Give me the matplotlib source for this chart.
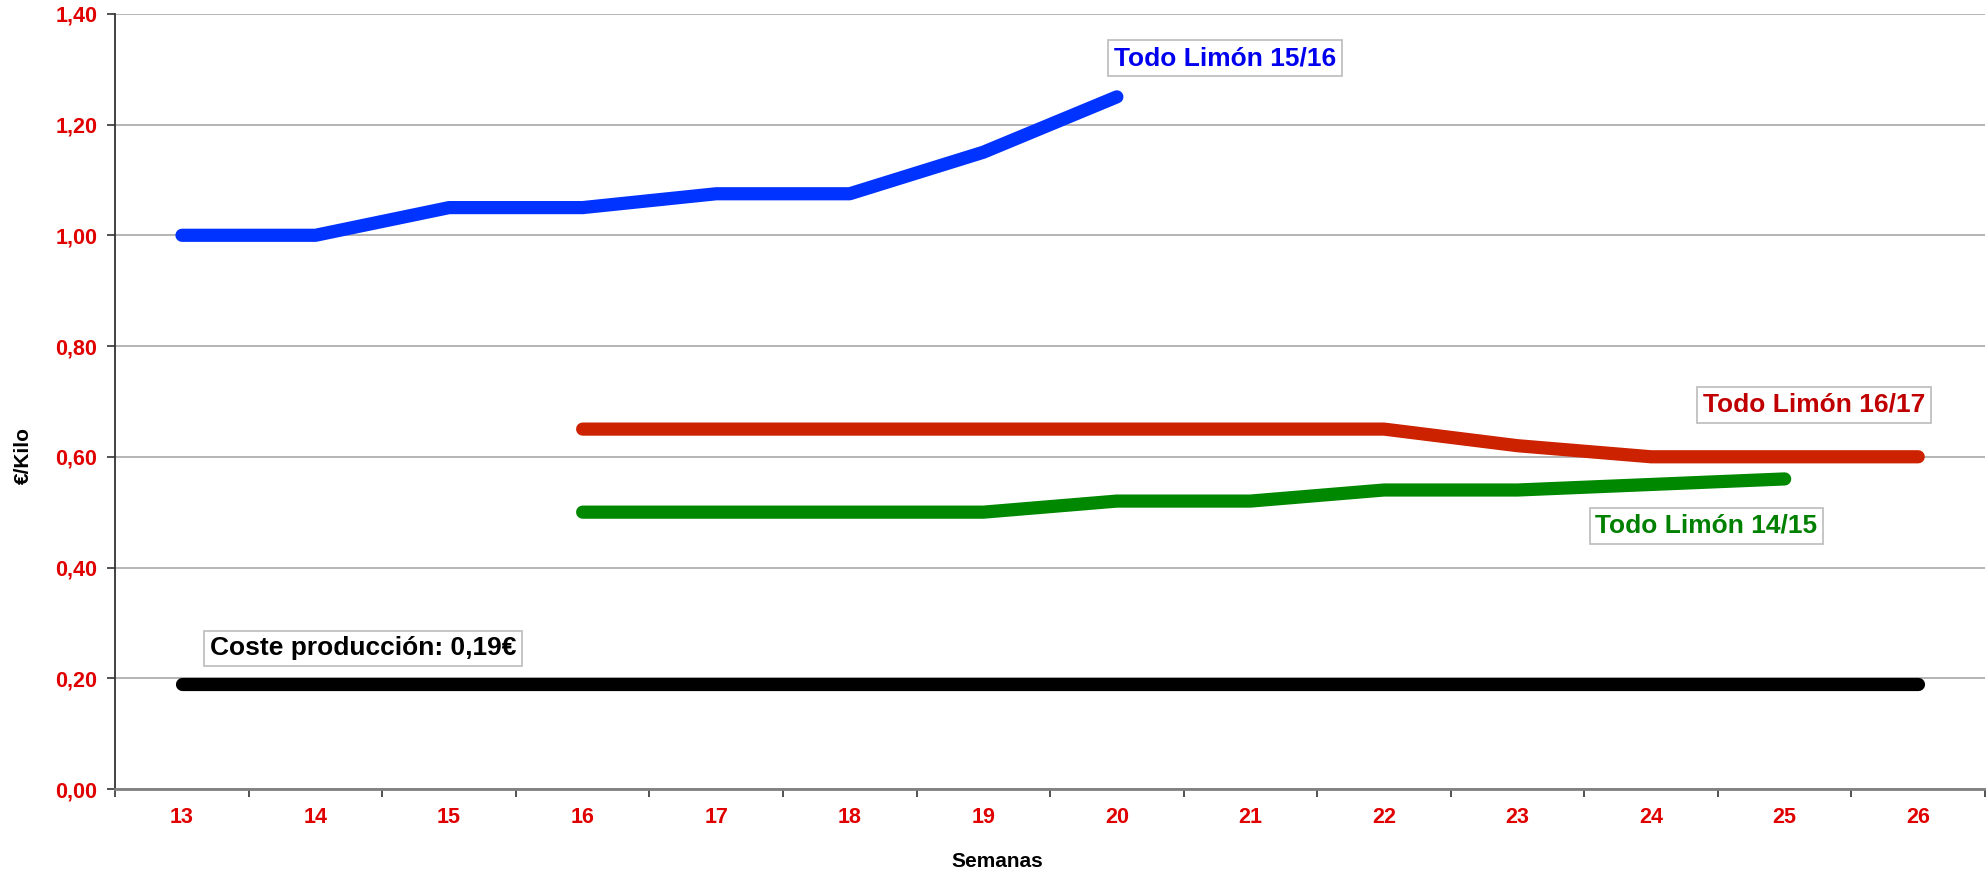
import numpy as np
import matplotlib
matplotlib.use("Agg")
import matplotlib.pyplot as plt
from matplotlib.ticker import FixedLocator, FuncFormatter

plt.rcParams["font.family"] = ["Liberation Sans", "DejaVu Sans"]

# ── data ──────────────────────────────────────────────
semanas = list(range(13, 27))

semanas_1516 = [13, 14, 15, 16, 17, 18, 19, 20]
precio_1516 = [1.00, 1.00, 1.05, 1.05, 1.075, 1.075, 1.15, 1.25]

semanas_1617 = [16, 17, 18, 19, 20, 21, 22, 23, 24, 25, 26]
precio_1617 = [0.65, 0.65, 0.65, 0.65, 0.65, 0.65, 0.65, 0.62, 0.60, 0.60, 0.60]

semanas_1415 = [16, 17, 18, 19, 20, 21, 22, 23, 24, 25]
precio_1415 = [0.50, 0.50, 0.50, 0.50, 0.52, 0.52, 0.54, 0.54, 0.55, 0.56]

coste = [0.19] * len(semanas)

y_ticks = [0.0, 0.2, 0.4, 0.6, 0.8, 1.0, 1.2, 1.4]

# ── figure ────────────────────────────────────────────
fig = plt.figure(figsize=(19.86, 8.73), dpi=100)
ax = fig.add_axes([0.058, 0.0962, 0.9415, 0.888])

lw = 9.5
ax.plot(semanas, coste, color="black", lw=lw, solid_capstyle="round", zorder=3)
ax.plot(semanas_1415, precio_1415, color="#008800", lw=lw, solid_capstyle="round", zorder=3)
ax.plot(semanas_1617, precio_1617, color="#CC2200", lw=lw, solid_capstyle="round", zorder=3)
ax.plot(semanas_1516, precio_1516, color="#0033FF", lw=lw, solid_capstyle="round", zorder=3)

# ── axes styling ──────────────────────────────────────
ax.set_xlim(12.5, 26.5)
ax.set_ylim(0, 1.4)

ax.yaxis.set_major_locator(FixedLocator(y_ticks))
ax.yaxis.set_major_formatter(FuncFormatter(lambda v, p: f"{v:.2f}".replace(".", ",")))
ax.set_xticks(semanas)
ax.set_xticklabels([str(s) for s in semanas])
ax.xaxis.set_minor_locator(FixedLocator(np.arange(12.5, 27, 1.0)))

ax.tick_params(axis="y", which="major", length=6, width=1.2, color="#333333",
               labelsize=15.5, labelcolor="#E00000", pad=7)
ax.tick_params(axis="x", which="major", length=0, labelsize=15.5,
               labelcolor="#E00000", pad=13)
ax.tick_params(axis="x", which="minor", length=6, width=1.2, color="#333333")
for lab in ax.get_xticklabels() + ax.get_yticklabels():
    lab.set_fontweight("bold")

ax.grid(True, axis="y", color="#A8A8A8", lw=1.2, zorder=0)
ax.set_axisbelow(True)

ax.spines["top"].set_visible(False)
ax.spines["right"].set_visible(False)
ax.spines["left"].set_color("#333333")
ax.spines["left"].set_linewidth(1.3)
ax.spines["bottom"].set_color("#808080")
ax.spines["bottom"].set_linewidth(2)

ax.set_xlabel("Semanas", fontsize=15, fontweight="bold")
ax.xaxis.set_label_coords(0.4717, -0.081)
ax.set_ylabel("€/Kilo", fontsize=15, fontweight="bold")
ax.yaxis.set_label_coords(-0.044, 0.43)

# ── series labels ─────────────────────────────────────
box = dict(boxstyle="square,pad=0.22", fc="white", ec="#BBBBBB", lw=1.2)
labels = [
    ("Todo Limón 15/16", 20.81, 1.32, "#0000EE"),
    ("Todo Limón 16/17", 25.22, 0.694, "#C00000"),
    ("Todo Limón 14/15", 24.415, 0.475, "#008000"),
    ("Coste producción: 0,19€", 14.357, 0.254, "black"),
]
for txt, x, y, col in labels:
    ax.text(x, y, txt, color=col, fontsize=19, fontweight="bold",
            ha="center", va="center", bbox=box, zorder=5)

fig.savefig("out.png", dpi=100)
